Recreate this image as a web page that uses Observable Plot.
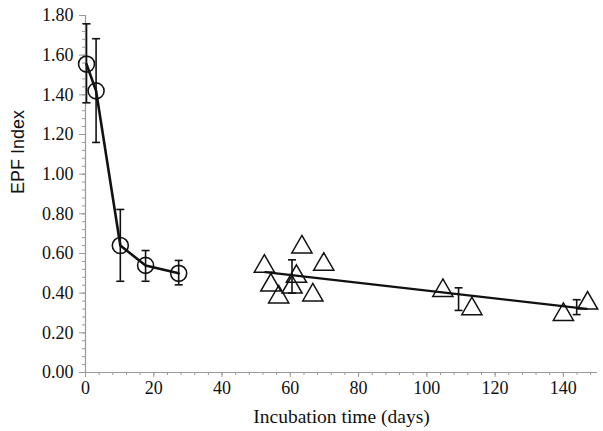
<!DOCTYPE html>
<html>
<head>
<meta charset="utf-8">
<script src="https://cdn.jsdelivr.net/npm/d3@7"></script>
<script src="https://cdn.jsdelivr.net/npm/@observablehq/plot@0.6"></script>
<style>
  html, body { margin: 0; padding: 0; background: #fff; }
  #chart svg { display: block; }
</style>
</head>
<body>
<div id="chart"></div>
<script>
// Early incubation (circles), mean ± error
const circDays = [0.3, 3.1, 10.2, 17.6, 27.3];
const circEPF  = [1.555, 1.42, 0.64, 0.54, 0.50];
const circLo   = [1.36, 1.16, 0.46, 0.46, 0.442];
const circHi   = [1.758, 1.683, 0.822, 0.615, 0.565];

// Later incubation (triangles), individual values
const triDays = [52.4, 54.3, 56.6, 60.5, 61.8, 63.4, 66.6, 69.8, 104.7, 113.2, 140.0, 147.1];
const triEPF  = [0.535, 0.44, 0.38, 0.43, 0.484, 0.632, 0.39, 0.545, 0.413, 0.321, 0.292, 0.349];

// Means with error bars for the later group
const meanDays = [60.5, 109.3, 143.9];
const meanLo   = [0.40, 0.313, 0.292];
const meanHi   = [0.568, 0.427, 0.367];

// Fitted trend line for the later group (end points)
const fitDays = [52.7, 146.8];
const fitEPF  = [0.506, 0.321];

// Axis ticks
const xTicks = [0, 20, 40, 60, 80, 100, 120, 140];
const yTicks = [0, 0.2, 0.4, 0.6, 0.8, 1.0, 1.2, 1.4, 1.6, 1.8];
const xMinor = d3.range(0, 150, 4);
const yMinor = d3.range(0, 1.81, 0.04);

const circles = circDays.map((d, i) => ({day: d, epf: circEPF[i], lo: circLo[i], hi: circHi[i]}));
const tris = triDays.map((d, i) => ({day: d, epf: triEPF[i]}));
const means = meanDays.map((d, i) => ({day: d, lo: meanLo[i], hi: meanHi[i]}));
const fit = fitDays.map((d, i) => ({day: d, epf: fitEPF[i]}));

const capSymbol = {
  draw(context, size) {
    const w = Math.sqrt(size) / 2;
    context.moveTo(-w, 0);
    context.lineTo(w, 0);
  }
};

const caps = [];
for (const c of circles) { caps.push({day: c.day, v: c.lo}); caps.push({day: c.day, v: c.hi}); }
for (const m of means) { caps.push({day: m.day, v: m.lo}); caps.push({day: m.day, v: m.hi}); }
const bars = circles.map(c => ({day: c.day, lo: c.lo, hi: c.hi})).concat(means);

const serif = "'Liberation Serif', 'Times New Roman', serif";
const axisGray = "#9a9a9a";

const chart = Plot.plot({
  width: 603,
  height: 431,
  marginLeft: 85,
  marginRight: 6,
  marginTop: 15,
  marginBottom: 59,
  style: {fontFamily: serif, fontSize: "18px", color: "#111", background: "#fff"},
  x: {domain: [0, 150], label: null},
  y: {domain: [0, 1.8], label: null},
  marks: [
    // minor ticks
    Plot.axisX({ticks: xMinor, tickSize: 3, tickFormat: null, text: null, stroke: axisGray}),
    Plot.axisY({ticks: yMinor, tickSize: 3, text: null, stroke: axisGray}),
    // major ticks + labels
    Plot.axisX({ticks: xTicks, tickSize: 5, tickPadding: 4, stroke: axisGray, fill: "#111",
      fontFamily: serif, fontSize: 18, tickFormat: d3.format("d")}),
    Plot.axisY({ticks: yTicks, tickSize: 6, tickPadding: 6, stroke: axisGray, fill: "#111",
      fontFamily: serif, fontSize: 18, tickFormat: d3.format(".2f")}),
    Plot.ruleX([0], {stroke: axisGray, strokeWidth: 1.2}),
    Plot.ruleY([0], {stroke: axisGray, strokeWidth: 1.2}),
    // error bars
    Plot.ruleX(bars, {x: "day", y1: "lo", y2: "hi", stroke: "#111", strokeWidth: 1.6}),
    Plot.dot(caps, {x: "day", y: "v", symbol: capSymbol, r: 4.5, stroke: "#111", fill: "none", strokeWidth: 1.6}),
    // lines
    Plot.line(circles, {x: "day", y: "epf", stroke: "#111", strokeWidth: 2.6}),
    Plot.line(fit, {x: "day", y: "epf", stroke: "#111", strokeWidth: 2.4}),
    // markers
    Plot.dot(circles, {x: "day", y: "epf", r: 8, stroke: "#111", fill: "none", strokeWidth: 1.6}),
    Plot.dot(tris, {x: "day", y: "epf", symbol: "triangle", r: 7.5, stroke: "#111", fill: "none", strokeWidth: 1.5}),
    // axis titles
    Plot.text(["Incubation time (days)"], {frameAnchor: "bottom", dy: 50, text: d => d,
      fontFamily: serif, fontSize: 19.5, fill: "#111"}),
    Plot.text(["EPF Index"], {frameAnchor: "left", dx: -67, rotate: -90, text: d => d,
      fontFamily: "'Liberation Sans', Arial, sans-serif", fontSize: 18, fill: "#111"})
  ]
});
document.getElementById("chart").appendChild(chart);
</script>
</body>
</html>
